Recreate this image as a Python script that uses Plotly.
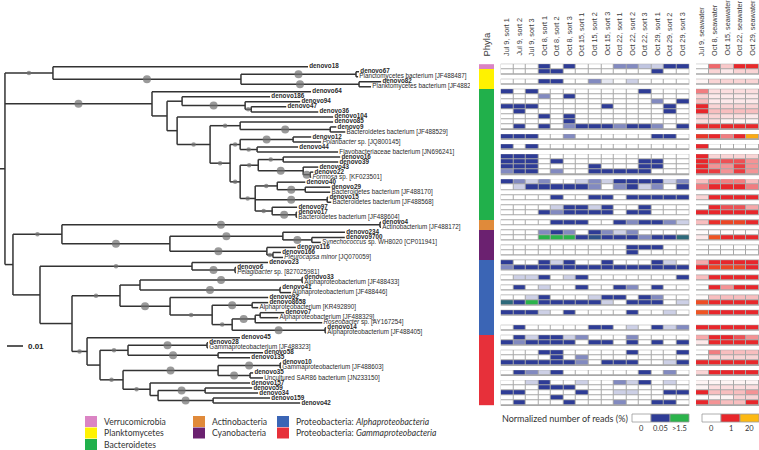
import plotly.graph_objects as go

# ---------------- data ----------------
# phylogenetic tree: internal node = (None, branch_length, support(0/1/2), [children]); tip = (name, branch_length)
TREE = (None, 0.0031, 0, [
    (None, 0.0300, 1, [
        ("denovo18", 0.1594),
        (None, 0.1175, 2, [
            (None, 0.0719, 2, [
                ("denovo67", 0.0019),
                ("Planctomycetes bacterium [JF488487]", 0.0013)]),
            (None, 0.0738, 2, [
                ("denovo82", 0.0138),
                ("Planktomycetes bacterium [JF488295]", 0.0075)])])]),
    (None, 0.0919, 2, [
        ("denovo64", 0.0994),
        (None, 0.0094, 0, [
            (None, 0.0094, 0, [
                ("denovo186", 0.0550),
                (None, 0.0394, 2, [
                    ("denovo94", 0.0344),
                    (None, 0.0038, 1, [
                        ("denovo47", 0.0219),
                        ("denovo36", 0.0419)])])]),
            (None, 0.0063, 0, [
                ("denovo104", 0.0975),
                (None, 0.0206, 1, [
                    (None, 0.0188, 1, [
                        ("denovo85", 0.0581),
                        (None, 0.0563, 2, [
                            ("denovo9", 0.0038),
                            ("Bacteroidetes bacterium [JF488529]", 0.0094)])]),
                    (None, 0.0125, 1, [
                        (None, 0.0063, 1, [
                            (None, 0.0331, 2, [
                                ("denovo12", 0.0113),
                                ("<i>Polaribacter</i> sp. [JQ800145]", 0.0175)]),
                            (None, 0.0106, 1, [
                                ("denovo44", 0.0256),
                                ("Flavobacteriaceae bacterium [JN696241]", 0.0506)])]),
                        (None, 0.0063, 1, [
                            (None, 0.0113, 1, [
                                (None, 0.0156, 1, [
                                    ("denovo16", 0.0356),
                                    ("denovo39", 0.0344)]),
                                (None, 0.0281, 2, [
                                    ("denovo43", 0.0094),
                                    (None, 0.0044, 2, [
                                        ("denovo22", 0.0019),
                                        ("<i>Formosa</i> sp. [KF023501]", 0.0006)])])]),
                            (None, 0.0094, 1, [
                                (None, 0.0138, 1, [
                                    ("denovo40", 0.0175),
                                    (None, 0.0175, 2, [
                                        ("denovo29", 0.0156),
                                        ("Bacteroidetes bacterium [JF488170]", 0.0156)])]),
                                (None, 0.0450, 2, [
                                    ("denovo15", 0.0006),
                                    ("Bacteroidetes bacterium [JF488568]", 0.0025)]),
                                (None, 0.0106, 1, [
                                    ("denovo97", 0.0156),
                                    (None, 0.0150, 2, [
                                        ("denovo17", 0.0006),
                                        ("Bacteroidetes bacterium [JF488604]", 0.0006)])])])])])])])])]),
    (None, 0.0050, 0, [
        (None, 0.0306, 1, [
            (None, 0.1988, 2, [
                ("denovo4", 0.0006),
                ("Actinobacterium [JF488172]", 0.0006)]),
            (None, 0.0675, 2, [
                (None, 0.0706, 2, [
                    ("denovo234", 0.0388),
                    (None, 0.0181, 2, [
                        ("denovo9700", 0.0206),
                        ("<i>Synechococcus</i> sp. WH8020 [CP011941]", 0.0056)])]),
                (None, 0.0606, 2, [
                    ("denovo116", 0.0181),
                    (None, 0.0038, 1, [
                        ("denovo166", 0.0050),
                        ("<i>Pleurocapsa minor</i> [JQ070059]", 0.0063)])])])]),
        (None, 0.0169, 0, [
            (None, 0.0950, 1, [
                ("denovo23", 0.0475),
                (None, 0.0269, 2, [
                    ("denovo6", 0.0006),
                    ("<i>Pelagibacter</i> sp. [827025981]", 0.0006)])]),
            (None, 0.0200, 0, [
                (None, 0.0300, 1, [
                    (None, 0.0125, 0, [
                        (None, 0.1013, 2, [
                            ("denovo33", 0.0006),
                            ("Alphaproteobacterium [JF488433]", 0.0006)]),
                        (None, 0.0875, 2, [
                            ("denovo41", 0.0006),
                            ("Alphaproteobacterium [JF488446]", 0.0069)])]),
                    (None, 0.0313, 2, [
                        ("denovo92", 0.0613),
                        (None, 0.0263, 1, [
                            (None, 0.0250, 2, [
                                ("denovo8658", 0.0100),
                                ("Alphaproteobacterium [KR492890]", 0.0038)]),
                            (None, 0.0125, 1, [
                                (None, 0.0144, 2, [
                                    (None, 0.0031, 0, [
                                        ("denovo7", 0.0150),
                                        ("Alphaproteobacterium [JF488329]", 0.0113)]),
                                    ("<i>Roseobacter</i> sp. [AY167254]", 0.0419)]),
                                (None, 0.0581, 2, [
                                    ("denovo14", 0.0006),
                                    ("Alphaproteobacterium [JF488405]", 0.0006)])])])])]),
                (None, 0.0094, 1, [
                    ("denovo45", 0.0956),
                    (None, 0.0081, 0, [
                        (None, 0.0175, 1, [
                            (None, 0.0494, 2, [
                                ("denovo28", 0.0006),
                                ("Gammaproteobacterium [JF488323]", 0.0006)]),
                            (None, 0.0563, 2, [
                                ("denovo58", 0.0281),
                                ("denovo135", 0.0200)])]),
                        (None, 0.0144, 1, [
                            (None, 0.0594, 2, [
                                (None, 0.0388, 2, [
                                    ("denovo10", 0.0006),
                                    ("Gammaproteobacterium [JF488603]", 0.0006)]),
                                (None, 0.0200, 2, [
                                    ("denovo35", 0.0019),
                                    ("Uncultured SAR86 bacterium [JN233150]", 0.0081)])]),
                            (None, 0.0169, 1, [
                                ("denovo157", 0.0625),
                                (None, 0.0050, 0, [
                                    (None, 0.0294, 2, [
                                        ("denovo59", 0.0294),
                                        ("denovo34", 0.0331)]),
                                    (None, 0.0344, 2, [
                                        ("denovo159", 0.0356),
                                        ("denovo42", 0.0544)])])])])])])])])])])

phyla_names = ["Verrucomicrobia", "Planktomycetes", "Bacteroidetes", "Actinobacteria",
               "Cyanobacteria", "Proteobacteria: <i>Alphaproteobacteria</i>",
               "Proteobacteria: <i>Gammaproteobacteria</i>"]
phyla_colors = ["#db84c4", "#fff200", "#21b04b", "#e08a3a", "#6b2170", "#3b65b5", "#e7303a"]
phyla_tip_counts = [1, 4, 26, 2, 6, 15, 14]

sort_labels = ["Jul 9, sort 1", "Jul 9, sort 2", "Jul 9, sort 3",
               "Oct 8, sort 1", "Oct 8, sort 2", "Oct 8, sort 3",
               "Oct 15, sort 1", "Oct 15, sort 2", "Oct 15, sort 3",
               "Oct 22, sort 1", "Oct 22, sort 2", "Oct 22, sort 3",
               "Oct 29, sort 1", "Oct 29, sort 2", "Oct 29, sort 3"]
seawater_labels = ["Jul 9, seawater", "Oct 8, seawater", "Oct 15, seawater",
                   "Oct 22, seawater", "Oct 29, seawater"]

# normalized reads (%) in sorted samples, rows = denovo OTUs in tree order
otu_rows = ["denovo18", "denovo67", "denovo82", "denovo64", "denovo186", "denovo94", "denovo47",
            "denovo36", "denovo104", "denovo85", "denovo9", "denovo12", "denovo44", "denovo16",
            "denovo39", "denovo43", "denovo22", "denovo40", "denovo29", "denovo15", "denovo97",
            "denovo17", "denovo4", "denovo234", "denovo9700", "denovo116", "denovo166", "denovo23",
            "denovo6", "denovo33", "denovo41", "denovo92", "denovo8658", "denovo7", "denovo14",
            "denovo45", "denovo28", "denovo58", "denovo135", "denovo10", "denovo35", "denovo157",
            "denovo59", "denovo34", "denovo159", "denovo42"]

sorted_reads = [
    [0, 0, 0, .05, 0, .05, 0, 0, 0, .03, .03, .015, .012, .05, .05],
    [0, 0, 0, .05, .05, 0, 0, 0, 0, 0, 0, 0, .05, 0, 0],
    [0, 0, 0, .05, .05, 0, 0, .03, .006, 0, .012, 0, 0, 0, 0],
    [.05, 0, .05, 0, 0, 0, 0, 0, 0, 0, 0, .05, 0, 0, 0],
    [0, 0, 0, .03, 0, .05, 0, 0, 0, 0, 0, 0, 0, 0, 0],
    [0, 0, 0, 0, 0, 0, 0, 0, 0, 0, 0, 0, .03, 0, .05],
    [.05, .05, .05, 0, 0, 0, 0, 0, .05, 0, 0, 0, 0, .05, 0],
    [0, .05, 0, 0, 0, 0, 0, 0, 0, 0, 0, 0, 0, .05, 0],
    [0, 0, 0, .05, 0, .05, 0, 0, 0, 0, 0, 0, 0, 0, 0],
    [0, 0, 0, 0, 0, .05, 0, 0, 0, 0, 0, 0, 0, 0, 0],
    [0, .05, 0, .05, 0, .03, .05, .05, .05, .03, .05, .05, .03, 0, .05],
    [.05, .05, .05, 0, 0, .03, 0, 0, 0, 0, 0, 0, .05, .05, 0],
    [.05, 0, .05, 0, 0, 0, 0, 0, 0, 0, 0, 0, 0, 0, 0],
    [.05, .05, .05, 0, 0, 0, 0, 0, 0, 0, 0, 0, 0, 0, 0],
    [.05, .05, .05, 0, .05, 0, 0, 0, 0, 0, 0, .05, .05, 0, 0],
    [.05, .05, .05, 0, 0, 0, 0, .05, 0, 0, 0, .05, .05, 0, 0],
    [.03, .05, .05, 0, .03, 0, 0, .05, .05, .05, .05, .05, 0, 0, 0],
    [.05, .03, .012, .03, 0, 0, .012, .03, .012, .05, .05, .05, .05, .012, .03],
    [0, .012, .05, .05, .05, .05, .05, .03, 0, .03, .05, .012, .03, 0, .05],
    [0, 0, 0, 0, .05, 0, 0, .05, .05, 0, .05, .05, .05, .05, .05],
    [0, 0, 0, 0, .012, .05, .05, .012, .05, 0, 0, .05, 0, 0, 0],
    [0, 0, 0, .05, .03, .05, .05, .05, .05, 0, .05, .05, 0, 0, 0],
    [0, 0, 0, 0, .05, .05, .05, 0, 0, .05, .03, .05, .05, .03, .012],
    [0, 0, 0, .03, .05, .03, 0, .05, .03, .012, .03, 0, 0, 0, 0],
    [0, 0, 0, 2.0, 2.0, 2.0, .05, .3, .05, .05, .05, .03, .05, .05, .6],
    [0, 0, 0, 0, 0, 0, 0, 0, 0, 0, .05, .05, .05, 0, 0],
    [0, 0, 0, 0, 0, 0, 0, 0, 0, 0, .05, 0, 0, 0, 0],
    [.05, 0, 0, .05, .012, .05, 0, 0, .05, 0, 0, 0, .05, .012, 0],
    [.03, .05, .05, .05, .05, .05, .05, .05, .05, .05, .05, .05, .05, .05, .05],
    [0, .012, .012, .05, 0, .012, .05, 0, 0, 0, 0, 0, 0, 0, .05],
    [0, .05, 0, .012, 0, 0, .05, 0, 0, .05, .03, 0, .05, 0, 0],
    [0, 0, .012, .05, 0, 0, 0, .012, .05, .05, 0, .05, .03, 0, 0],
    [.6, .05, 2.0, .05, .05, .05, .05, .05, .012, 0, .05, .05, .05, 0, .012],
    [.05, .05, .05, .012, 0, .05, 0, 0, 0, 0, .05, 0, 0, .012, 0],
    [0, .05, 0, 0, 0, 0, 0, .05, .05, 0, .012, 0, .05, .012, .03],
    [0, .05, .012, .05, .05, .012, .03, 0, 0, 0, .03, 0, 0, 0, 0],
    [.05, .03, .05, .05, .05, .05, 0, .05, .05, 0, .05, 0, .05, 0, .05],
    [0, 0, 0, .05, .05, 0, 0, 0, 0, 0, .05, 0, 0, 0, .05],
    [0, 0, 0, 0, .05, 0, .03, 0, 0, 0, 0, 0, 0, 0, 0],
    [.05, .05, .05, .05, .05, .05, .03, 0, .05, .05, .05, 0, 0, .012, .05],
    [0, .05, .03, .012, .05, 0, 0, 0, 0, 0, 0, .05, 0, .03, 0],
    [0, 0, .012, .05, 0, 0, .012, 0, 0, .03, .012, .05, 0, .012, 0],
    [0, 0, 0, .05, .05, .05, 0, 0, 0, 0, 0, 0, 0, 0, 0],
    [.05, .05, 0, 0, 0, 0, .05, 0, 0, .012, .012, 0, 0, .05, .05],
    [0, 0, 0, 0, .05, 0, 0, 0, 0, 0, 0, 0, 0, 0, 0],
    [0, .05, 0, 0, 0, .05, 0, 0, 0, .03, 0, 0, .05, .05, 0],
]

# normalized reads (%) in unsorted seawater
seawater_reads = [
    [0, .7, .25, 1.0, 1.5], [0, .2, .1, .2, .2], [.05, .2, .2, .2, .2], [.6, .15, .15, .15, .15],
    [.2, .1, .1, .1, .1], [.3, .1, .1, .1, .1], [1.0, .2, .2, .2, .2], [1.0, .3, .3, .3, .3],
    [.2, .2, .15, .15, .1], [.15, .15, .05, .05, .05], [1.2, 1.2, 1.2, 1.2, 1.2],
    [3.0, 1.0, .6, 1.0, 18.0], [1.0, 0, 0, 0, 0], [1.0, .2, .2, .2, .2], [1.0, .8, .8, .8, .5],
    [1.0, .5, .5, .9, .5], [1.0, .9, .5, .9, .5], [.3, .6, .6, .6, .3], [.6, 1.0, 1.0, 1.0, .6],
    [.2, 1.0, 1.0, 1.0, 1.0], [0, 1.0, .8, .8, .4], [1.0, 1.0, 1.0, 1.0, 1.0],
    [.3, 2.0, 5.0, 5.0, 1.2], [.02, .02, .02, .02, .02], [.1, 7.0, 1.2, 1.2, 1.2],
    [0, 0, 0, 0, 0], [0, 0, 0, 0, 0], [.4, 1.0, 1.0, 1.0, 1.0], [1.0, 5.0, 5.0, 5.0, 1.0],
    [.3, 1.0, 1.0, 1.0, 1.0], [0, 1.0, .5, 1.0, 1.0], [.02, .3, .3, .3, .3],
    [6.0, 1.2, 1.2, 1.2, 1.2], [7.0, 1.0, 1.0, 1.0, 1.0], [1.0, 1.0, 1.0, 1.0, 1.0],
    [.4, 1.0, 1.0, .8, .5], [.1, 1.2, 1.2, 1.2, 1.2], [0, .6, .3, .3, .3], [0, .2, .2, .2, .2],
    [1.2, 1.2, 1.2, 1.2, 1.2], [.2, 1.0, 1.0, 1.0, 1.0], [.05, .05, .05, .05, .05],
    [.05, .15, .15, .15, .15], [1.0, .3, .3, .3, .5], [0, .05, .05, .2, .2], [1.0, .5, .3, .3, 1.0],
]

blue_key_values = [0, 0.05, 1.5]
blue_key_labels = ["0", "0.05", ">1.5"]
red_key_values = [0, 1, 20]
red_key_labels = ["0", "1", "20"]
scale_bar_length = 0.01

# ---------------- layout helpers ----------------
W, H = 759, 450
UNIT_PX = 1600.0           # px per substitution unit
TIP0_PX, TIP_STEP = 66.7, 5.02
Y_TOP = -TIP0_PX / TIP_STEP
Y_BOT = Y_TOP + H / TIP_STEP

BLUE_SCALE = [[0, "#ffffff"], [0.05 / 1.5, "#2e3c96"], [1, "#2bb34b"]]
RED_SCALE = [[0, "#ffffff"], [1 / 20, "#e8262b"], [1, "#fdb913"]]

def hex2rgb(h):
    h = h.lstrip("#")
    return tuple(int(h[i:i + 2], 16) for i in (0, 2, 4))

def scale_color(scale, zmax, v):
    t = min(max(v / zmax, 0), 1)
    for (a, ca), (b, cb) in zip(scale[:-1], scale[1:]):
        if a <= t <= b:
            f = 0 if b == a else (t - a) / (b - a)
            r1, r2 = hex2rgb(ca), hex2rgb(cb)
            return "rgb(%d,%d,%d)" % tuple(round(x + (y - x) * f) for x, y in zip(r1, r2))
    return scale[-1][1]

# ---------------- tree layout ----------------
tips = []
hx, hy, dots = [], [], []

def walk(node, parent_x):
    if len(node) == 2:
        name, bl = node
        x = parent_x + bl
        y = len(tips)
        tips.append((name, x, y))
        hx.extend([parent_x, x, None]); hy.extend([y, y, None])
        return y
    _, bl, sup, kids = node
    x = parent_x + bl
    ys = [walk(k, x) for k in kids]
    y = (ys[0] + ys[-1]) / 2
    hx.extend([x, x, None]); hy.extend([ys[0], ys[-1], None])
    hx.extend([parent_x, x, None]); hy.extend([y, y, None])
    if sup:
        dots.append(((parent_x + x) / 2, y, sup))
    return y

walk(TREE, 0.0)
n_tips = len(tips)

TREE_W = 470
fig = go.Figure()

fig.add_trace(go.Scatter(x=hx, y=hy, mode="lines", line=dict(color="#333333", width=1.5),
                         hoverinfo="skip", xaxis="x", yaxis="y"))
fig.add_trace(go.Scatter(x=[d[0] for d in dots], y=[d[1] for d in dots], mode="markers",
                         marker=dict(size=[8 if d[2] == 2 else 4.5 for d in dots], color="#6f6f6f",
                                     line=dict(width=0)),
                         hoverinfo="skip", xaxis="x", yaxis="y"))
labels = []
for name, x, y in tips:
    if name.startswith("denovo"):
        labels.append("\u2009<b>%s</b>" % name)
    else:
        labels.append("\u2009" + name)
fig.add_trace(go.Scatter(x=[t[1] for t in tips], y=[t[2] for t in tips], mode="text",
                         text=labels, textposition="middle right",
                         textfont=dict(family="Liberation Sans, Arial", size=6.3, color="#2a2a2a"),
                         hoverinfo="skip", xaxis="x", yaxis="y"))

# scale bar
sb_x0 = 7 / UNIT_PX
sb_y = (346 - TIP0_PX) / TIP_STEP
fig.add_trace(go.Scatter(x=[sb_x0, sb_x0 + scale_bar_length], y=[sb_y, sb_y], mode="lines",
                         line=dict(color="#222222", width=1.5), hoverinfo="skip", xaxis="x", yaxis="y"))
fig.add_annotation(x=sb_x0 + scale_bar_length + 3 / UNIT_PX, y=sb_y, xref="x", yref="y",
                   text="<b>0.01</b>", showarrow=False, xanchor="left", yanchor="middle",
                   font=dict(family="Liberation Sans, Arial", size=8, color="#222222"))

# ---------------- phyla bar ----------------
tip_phylum = []
for k, c in enumerate(phyla_tip_counts):
    tip_phylum += [k] * c
nph = len(phyla_colors)
ph_scale = []
for k, c in enumerate(phyla_colors):
    ph_scale.append([k / nph, c]); ph_scale.append([(k + 1) / nph, c])
fig.add_trace(go.Heatmap(z=[[p + 0.5] for p in tip_phylum], x=[0], y=list(range(n_tips)),
                         zmin=0, zmax=nph, colorscale=ph_scale, showscale=False,
                         hoverinfo="skip", xaxis="x2", yaxis="y"))

# ---------------- heatmaps ----------------
row_of = {n: i for i, n in enumerate(otu_rows)}
zb, zr = [], []
for name, x, y in tips:
    if name in row_of:
        zb.append(sorted_reads[row_of[name]]); zr.append(seawater_reads[row_of[name]])
    else:
        zb.append([None] * len(sort_labels)); zr.append([None] * len(seawater_labels))

fig.add_trace(go.Heatmap(z=zb, x=list(range(len(sort_labels))), y=list(range(n_tips)),
                         zmin=0, zmax=1.5, colorscale=BLUE_SCALE, showscale=False, xgap=1, ygap=1,
                         hoverinfo="skip", xaxis="x3", yaxis="y"))
fig.add_trace(go.Heatmap(z=zr, x=list(range(len(seawater_labels))), y=list(range(n_tips)),
                         zmin=0, zmax=20, colorscale=RED_SCALE, showscale=False, xgap=1, ygap=1,
                         hoverinfo="skip", xaxis="x4", yaxis="y"))

# grey cell borders behind heatmap rows (runs of consecutive OTU rows)
shapes = []
runs = []
start = None
for i, (name, x, y) in enumerate(tips):
    has = name in row_of
    if has and start is None:
        start = i
    if (not has or i == n_tips - 1) and start is not None:
        end = i if has else i - 1
        runs.append((start, end)); start = None
for s, e in runs:
    for xr, ncol in (("x3", len(sort_labels)), ("x4", len(seawater_labels))):
        shapes.append(dict(type="rect", xref=xr, yref="y", x0=-0.55, x1=ncol - 0.45,
                           y0=s - 0.6, y1=e + 0.6, fillcolor="#a8a8a8", line=dict(width=0),
                           layer="below"))

# column headers
HEAD_Y = 1 - 58 / H
for j, lab in enumerate(sort_labels):
    fig.add_annotation(x=j, y=HEAD_Y, xref="x3", yref="paper", text=lab, textangle=-90,
                       showarrow=False, xanchor="center", yanchor="bottom",
                       font=dict(family="Liberation Sans, Arial", size=7.3, color="#3a3a3a"))
for j, lab in enumerate(seawater_labels):
    fig.add_annotation(x=j, y=HEAD_Y, xref="x4", yref="paper", text=lab, textangle=-90,
                       showarrow=False, xanchor="center", yanchor="bottom",
                       font=dict(family="Liberation Sans, Arial", size=7.3, color="#3a3a3a"))
fig.add_annotation(x=0, y=HEAD_Y, xref="x2", yref="paper", text="Phyla", textangle=-90,
                   showarrow=False, xanchor="center", yanchor="bottom",
                   font=dict(family="Liberation Sans, Arial", size=9.5, color="#3a3a3a"))

# ---------------- phyla legend ----------------
leg_cols_x = [85, 193, 277]
leg_rows_y = [416, 427.5, 439]
leg_slots = [(0, 0), (0, 1), (0, 2), (1, 0), (1, 1), (2, 0), (2, 1)]
for (ci, ri), name, col in zip(leg_slots, phyla_names, phyla_colors):
    x0, y0 = leg_cols_x[ci], leg_rows_y[ri]
    shapes.append(dict(type="rect", xref="paper", yref="paper", x0=x0 / W, x1=(x0 + 12) / W,
                       y0=1 - (y0 + 11) / H, y1=1 - y0 / H, fillcolor=col, line=dict(width=0)))
    fig.add_annotation(x=(x0 + 17) / W, y=1 - (y0 + 5.5) / H, xref="paper", yref="paper",
                       text=name, showarrow=False, xanchor="left", yanchor="middle",
                       font=dict(family="Lato, Open Sans", size=8.6, color="#333333"))

# ---------------- colour keys ----------------
fig.add_annotation(x=500 / W, y=1 - 418 / H, xref="paper", yref="paper",
                   text="Normalized number of reads (%)", showarrow=False, xanchor="left",
                   yanchor="middle", font=dict(family="Lato, Open Sans", size=9, color="#333333"))
for x0, vals, labs, scale, zmax in ((632, blue_key_values, blue_key_labels, BLUE_SCALE, 1.5),
                                    (702, red_key_values, red_key_labels, RED_SCALE, 20)):
    bw = 19
    for k, (v, lab) in enumerate(zip(vals, labs)):
        shapes.append(dict(type="rect", xref="paper", yref="paper", x0=(x0 + k * bw) / W,
                           x1=(x0 + (k + 1) * bw) / W, y0=1 - 422 / H, y1=1 - 414 / H,
                           fillcolor=scale_color(scale, zmax, v), line=dict(color="#9a9a9a", width=0.8)))
        fig.add_annotation(x=(x0 + k * bw + bw / 2) / W, y=1 - 428 / H, xref="paper", yref="paper",
                           text=lab, showarrow=False, xanchor="center", yanchor="middle",
                           font=dict(family="Lato, Open Sans", size=7.5, color="#333333"))

fig.update_layout(
    width=W, height=H, margin=dict(l=0, r=0, t=0, b=0), showlegend=False,
    paper_bgcolor="white", plot_bgcolor="white", shapes=shapes,
    xaxis=dict(domain=[0, TREE_W / W], range=[0, TREE_W / UNIT_PX], visible=False),
    xaxis2=dict(domain=[479 / W, 494 / W], range=[-0.5, 0.5], visible=False, anchor="y"),
    xaxis3=dict(domain=[500.7 / W, 689.3 / W], range=[-0.5, 14.5], visible=False, anchor="y"),
    xaxis4=dict(domain=[696 / W, 1.0], range=[-0.5, 4.5], visible=False, anchor="y"),
    yaxis=dict(domain=[0, 1], range=[Y_BOT, Y_TOP], visible=False),
)
fig.write_html("out.html", config={"displayModeBar": False, "staticPlot": True},
               post_script="document.body.style.margin='0';document.body.style.overflow='hidden';")
